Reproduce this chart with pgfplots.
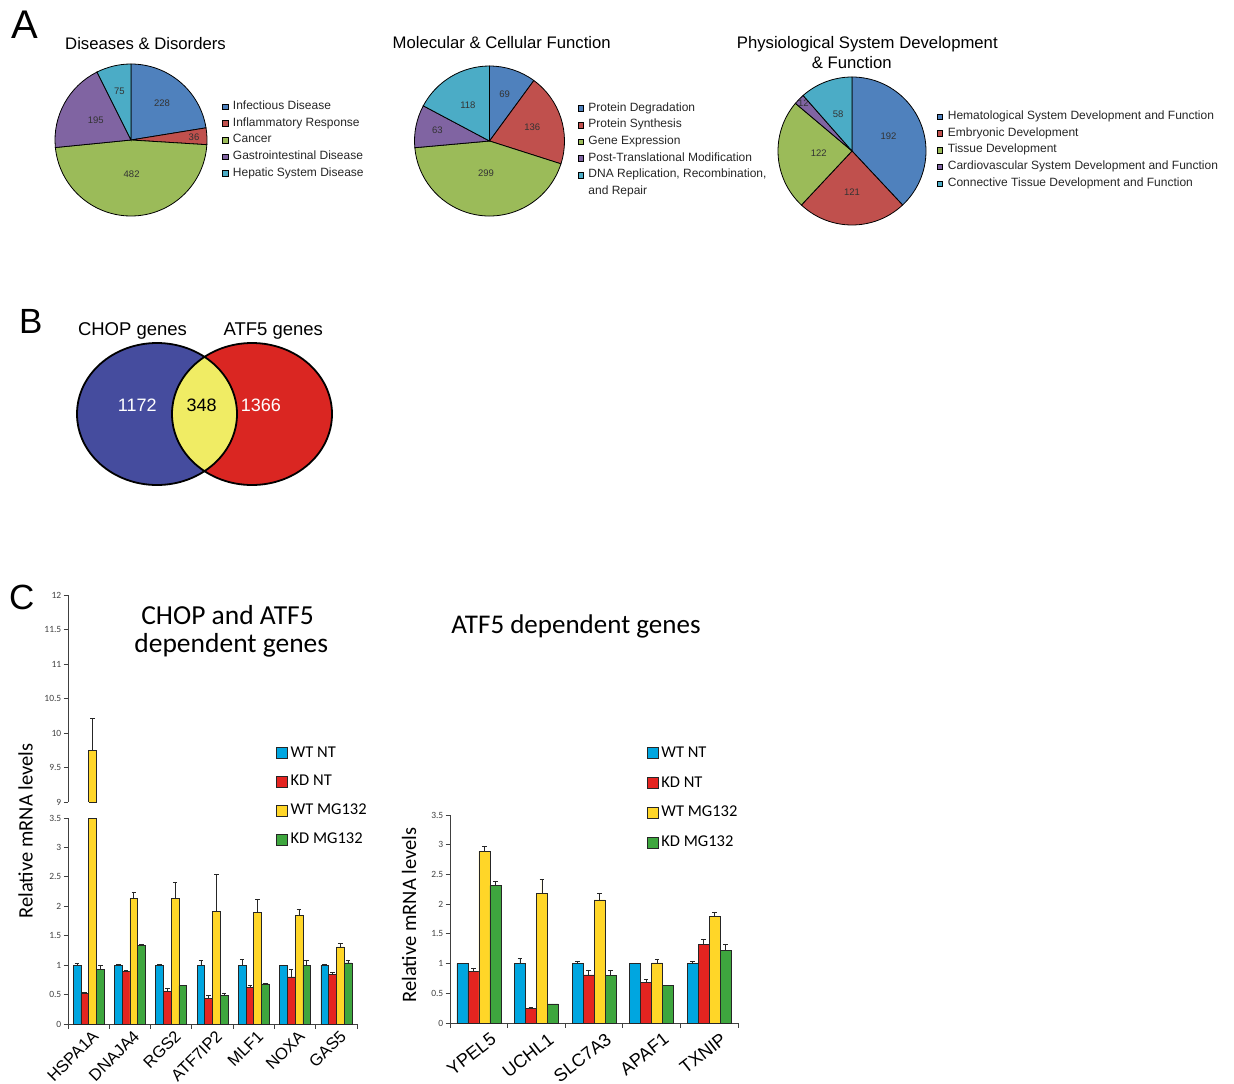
\documentclass[border=0pt]{standalone}
\usepackage{pgfplots}
\pgfplotsset{compat=1.18}
\usepackage{fontspec}
\setmainfont{Liberation Sans}
\newfontfamily\calibri{Carlito}

\definecolor{pblue}{RGB}{79,129,189}
\definecolor{pred}{RGB}{192,80,77}
\definecolor{pgreen}{RGB}{155,187,89}
\definecolor{ppurple}{RGB}{128,100,162}
\definecolor{pteal}{RGB}{75,172,198}
\definecolor{vblue}{RGB}{69,76,158}
\definecolor{vred}{RGB}{218,38,34}
\definecolor{vyellow}{RGB}{240,236,100}
\definecolor{bblue}{RGB}{0,166,224}
\definecolor{bred}{RGB}{228,36,32}
\definecolor{byellow}{RGB}{255,214,40}
\definecolor{bgreen}{RGB}{62,166,62}

\newcommand\fs[1]{\fontsize{#1}{#1}\selectfont}
\newcommand\pielabelfont{\fs{9.5}\color{black!80}}

% builds the slices of a pie (value/colour/label-radius-factor), clockwise from 12 o'clock
\newcommand\makepie[3]{%
  \gdef\pietotal{0}%
  \foreach \v/\c/\f in {#3}{\pgfmathparse{\pietotal+\v}\xdef\pietotal{\pgfmathresult}}%
  \gdef\pieacc{0}%
  \gdef#1{}%
  \foreach \v/\c/\f in {#3}{%
    \pgfmathsetmacro\piea{90-\pieacc/\pietotal*360}%
    \pgfmathparse{\pieacc+\v}\xdef\pieacc{\pgfmathresult}%
    \pgfmathsetmacro\pieb{90-\pieacc/\pietotal*360}%
    \pgfmathsetmacro\piemid{(\piea+\pieb)/2}%
    \pgfmathsetmacro\pierad{\f*#2}%
    \xdef#1{\unexpanded\expandafter{#1}%
      \noexpand\fill[\c,draw=black,line width=0.8pt] (axis cs:0,0) -- ++(\piea:#2pt) arc[start angle=\piea,end angle=\pieb,radius=#2pt] -- cycle;%
      \noexpand\node[font=\noexpand\pielabelfont] at ([shift={(\piemid:\pierad pt)}]axis cs:0,0) {\v};}%
  }%
}
\makepie\pieA{76}{228/pblue/0.63,36/pred/0.83,482/pgreen/0.45,195/ppurple/0.53,75/pteal/0.66}
\makepie\pieB{75}{69/pblue/0.65,136/pred/0.6,299/pgreen/0.43,63/ppurple/0.71,118/pteal/0.56}
\makepie\pieC{74}{192/pblue/0.53,121/pred/0.55,122/pgreen/0.45,12/ppurple/0.92,58/pteal/0.53}

\pgfplotsset{
  pieaxis/.style={hide axis, scale only axis, clip=false, anchor=center,
    xmin=-1,xmax=1,ymin=-1,ymax=1,
    legend cell align=left,
    legend image code/.code={\fill[##1] (0pt,-2.75pt) rectangle (5.5pt,2.75pt); \path (10.5pt,0pt);},
    legend style={draw=none, fill=none, anchor=north west, inner sep=0pt, outer sep=0pt,
      row sep=4.7pt, font=\fs{12}, text=black!85,
      nodes={inner sep=0pt, text height=8.8pt, text depth=3.2pt}}},
  barax/.style={scale only axis, anchor=south west, clip=false, ybar=0pt,
    axis lines*=left, axis line style={black!75, line width=0.8pt},
    tick align=outside, major tick length=4.5pt, tick style={black!75, line width=0.8pt},
    yticklabel style={font=\calibri\fs{9.5}, text=black!75, inner sep=2pt},
    /pgf/number format/assume math mode=true,
    every axis plot/.append style={draw=black!85, line width=0.6pt},
    legend cell align=left,
    legend image code/.code={\draw[##1, draw=black!85, line width=0.7pt] (0pt,-5.5pt) rectangle (11pt,5.5pt); \path (13pt,0pt);},
    legend style={draw=none, fill=none, anchor=north west, inner sep=0pt, outer sep=0pt,
      font=\calibri\fs{16.5}, nodes={inner ysep=0pt, inner xsep=1pt, text height=12pt, text depth=4pt}},
    xticklabels={},
  },
  errbar/.style={error bars/y dir=plus, error bars/y explicit,
    error bars/error bar style={draw=black!85, line width=0.7pt},
    error bars/error mark options={rotate=90, draw=black!85, line width=0.7pt, mark size=2.3pt}},
}

\begin{document}
\begin{tikzpicture}
\useasboundingbox (0pt,0pt) rectangle (1234pt,-1084pt);

% ---------------- A: pies
\begin{axis}[pieaxis, at={(131pt,-140pt)}, width=152pt, height=152pt,
  legend style={at={(1.099,0.759)}}]
\pieA
\addlegendimage{fill=pblue}\addlegendentry{Infectious Disease}
\addlegendimage{fill=pred}\addlegendentry{Inflammatory Response}
\addlegendimage{fill=pgreen}\addlegendentry{Cancer}
\addlegendimage{fill=ppurple}\addlegendentry{Gastrointestinal Disease}
\addlegendimage{fill=pteal}\addlegendentry{Hepatic System Disease}
\end{axis}

\begin{axis}[pieaxis, at={(489.5pt,-141pt)}, width=150pt, height=150pt,
  legend style={at={(1.087,0.758)}}]
\pieB
\addlegendimage{fill=pblue}\addlegendentry{Protein Degradation}
\addlegendimage{fill=pred}\addlegendentry{Protein Synthesis}
\addlegendimage{fill=pgreen}\addlegendentry{Gene Expression}
\addlegendimage{fill=ppurple}\addlegendentry{Post-Translational Modification}
\addlegendimage{fill=pteal}\addlegendentry{DNA Replication, Recombination,}
\addlegendimage{empty legend}\addlegendentry{and Repair}
\end{axis}

\begin{axis}[pieaxis, at={(852pt,-151pt)}, width=148pt, height=148pt,
  legend style={at={(1.074,0.772)}}]
\pieC
\addlegendimage{fill=pblue}\addlegendentry{Hematological System Development and Function}
\addlegendimage{fill=pred}\addlegendentry{Embryonic Development}
\addlegendimage{fill=pgreen}\addlegendentry{Tissue Development}
\addlegendimage{fill=ppurple}\addlegendentry{Cardiovascular System Development and Function}
\addlegendimage{fill=pteal}\addlegendentry{Connective Tissue Development and Function}
\end{axis}

\node[anchor=base, font=\fs{16.7}] at (145.5pt,-49.5pt) {Diseases \& Disorders};
\node[anchor=base, font=\fs{16.7}] at (501.7pt,-48.5pt) {Molecular \& Cellular Function};
\node[anchor=base, font=\fs{16.7}] at (867.3pt,-48.3pt) {Physiological System Development};
\node[anchor=base, font=\fs{16.7}] at (851.7pt,-68.3pt) {\& Function};

% ---------------- B: Venn
\begin{axis}[hide axis, scale only axis, clip=false, anchor=south west,
  at={(60pt,-500pt)}, width=280pt, height=180pt,
  xmin=60, xmax=340, ymin=-500, ymax=-320]
\fill[vblue] (axis cs:157,-414) ellipse [x radius=80pt, y radius=71pt];
\fill[vred] (axis cs:252,-414) ellipse [x radius=80pt, y radius=71pt];
\fill[vyellow] (axis cs:204.5,-356.9) arc[start angle=126.4, end angle=233.6, x radius=80pt, y radius=71pt]
   arc[start angle=-53.6, end angle=53.6, x radius=80pt, y radius=71pt] -- cycle;
\draw[black, line width=1.8pt] (axis cs:157,-414) ellipse [x radius=80pt, y radius=71pt];
\draw[black, line width=1.8pt] (axis cs:252,-414) ellipse [x radius=80pt, y radius=71pt];
\node[anchor=base, font=\fs{18}, text=white] at (axis cs:137.2,-411.5) {1172};
\node[anchor=base, font=\fs{18}, text=black] at (axis cs:201.7,-411.5) {348};
\node[anchor=base, font=\fs{18}, text=white] at (axis cs:260.8,-411.5) {1366};
\end{axis}
\node[anchor=base, font=\fs{18.5}] at (132.5pt,-335pt) {CHOP genes};
\node[anchor=base, font=\fs{18.5}] at (273.3pt,-335pt) {ATF5 genes};

% ---------------- C: left bar chart, upper part (axis break)
\begin{axis}[scale only axis, anchor=south west, clip=false,
  at={(68pt,-802pt)}, width=289pt, height=207pt,
  xmin=-0.5, xmax=6.5, ymin=9, ymax=12, ytick={9,9.5,...,12},
  axis x line=none, axis y line*=left, axis line style={black!75, line width=0.8pt},
  tick align=outside, major tick length=4.5pt, tick style={black!75, line width=0.8pt},
  yticklabel style={font=\calibri\fs{9.5}, text=black!75, inner sep=2pt},
  /pgf/number format/assume math mode=true]
\addplot[fill=byellow, draw=black!85, line width=0.6pt] coordinates {(0,9) (0,9.75) (0.1877,9.75) (0.1877,9) (0,9)};
\addplot[draw=none, mark=none, errbar] coordinates {(0.0939,9.75) +- (0,0.46)};
\end{axis}

% lower part
\begin{axis}[barax, at={(68pt,-1024pt)}, width=289pt, height=206pt,
  xmin=-0.5, xmax=6.5, ymin=0, ymax=3.5, ytick={0,0.5,...,3.5},
  bar width=7.75pt, xtick={-0.5,0.5,...,6.5},
  extra x ticks={0,1,2,3,4,5,6},
  extra x tick labels={HSPA1A,DNAJA4,RGS2,ATF7IP2,MLF1,NOXA,GAS5},
  extra x tick style={major tick length=0pt, tick label style={xshift=2.5pt, yshift=-4.5pt, rotate=45, anchor=north east, font=\fs{16.5}, inner sep=0.5pt}},
  legend style={at={(0.7197,1.353)}, row sep=12.7pt}]
\addplot[fill=bblue, errbar] coordinates {(0,1.00)+-(0,0.03) (1,1.00)+-(0,0.02) (2,1.00)+-(0,0.01) (3,1.00)+-(0,0.085) (4,1.00)+-(0,0.10) (5,1.00)+-(0,0.005) (6,1.00)+-(0,0.02)};
\addlegendentry{WT NT}
\addplot[fill=bred, errbar] coordinates {(0,0.52)+-(0,0.01) (1,0.90)+-(0,0.01) (2,0.56)+-(0,0.05) (3,0.44)+-(0,0.05) (4,0.62)+-(0,0.04) (5,0.80)+-(0,0.13) (6,0.84)+-(0,0.03)};
\addlegendentry{KD NT}
\addplot[fill=byellow, errbar] coordinates {(0,3.5)+-(0,0) (1,2.13)+-(0,0.10) (2,2.13)+-(0,0.28) (3,1.92)+-(0,0.63) (4,1.90)+-(0,0.22) (5,1.84)+-(0,0.11) (6,1.31)+-(0,0.06)};
\addlegendentry{WT MG132}
\addplot[fill=bgreen, errbar] coordinates {(0,0.93)+-(0,0.07) (1,1.33)+-(0,0.02) (2,0.65)+-(0,0.01) (3,0.49)+-(0,0.03) (4,0.68)+-(0,0.01) (5,1.00)+-(0,0.09) (6,1.04)+-(0,0.04)};
\addlegendentry{KD MG132}
\end{axis}

% right bar chart
\begin{axis}[barax, at={(450pt,-1023pt)}, width=288pt, height=208pt,
  xmin=-0.5, xmax=4.5, ymin=0, ymax=3.5, ytick={0,0.5,...,3.5},
  bar width=11pt, xtick={-0.5,0.5,...,4.5},
  extra x ticks={0,1,2,3,4},
  extra x tick labels={YPEL5,UCHL1,SLC7A3,APAF1,TXNIP},
  extra x tick style={major tick length=0pt, tick label style={xshift=11pt, yshift=-8pt, rotate=38, anchor=north east, font=\fs{18}, inner sep=0.5pt}},
  legend style={at={(0.683,1.335)}, row sep=13.8pt}]
\addplot[fill=bblue, errbar] coordinates {(0,1.00)+-(0,0.005) (1,1.00)+-(0,0.08) (2,1.00)+-(0,0.04) (3,1.00)+-(0,0.01) (4,1.00)+-(0,0.03)};
\addlegendentry{WT NT}
\addplot[fill=bred, errbar] coordinates {(0,0.87)+-(0,0.05) (1,0.25)+-(0,0.01) (2,0.81)+-(0,0.07) (3,0.69)+-(0,0.05) (4,1.32)+-(0,0.09)};
\addlegendentry{KD NT}
\addplot[fill=byellow, errbar] coordinates {(0,2.89)+-(0,0.09) (1,2.18)+-(0,0.24) (2,2.07)+-(0,0.11) (3,1.01)+-(0,0.06) (4,1.79)+-(0,0.07)};
\addlegendentry{WT MG132}
\addplot[fill=bgreen, errbar] coordinates {(0,2.31)+-(0,0.08) (1,0.32)+-(0,0) (2,0.80)+-(0,0.08) (3,0.63)+-(0,0.01) (4,1.22)+-(0,0.10)};
\addlegendentry{KD MG132}
\end{axis}

\node[anchor=base, font=\calibri\fs{27.5}] at (227.5pt,-624pt) {CHOP and ATF5};
\node[anchor=base, font=\calibri\fs{27.5}] at (231.3pt,-652pt) {dependent genes};
\node[anchor=base, font=\calibri\fs{27}] at (576pt,-633pt) {ATF5 dependent genes};
\node[rotate=90, font=\calibri\fs{20.5}] at (25.5pt,-831pt) {Relative mRNA levels};
\node[rotate=90, font=\calibri\fs{20.5}] at (409pt,-915pt) {Relative mRNA levels};

% panel letters
\node[anchor=base west, font=\fs{40}, inner sep=0pt] at (11pt,-38pt) {A};
\node[anchor=base west, font=\fs{35}, inner sep=0pt] at (19pt,-333pt) {B};
\node[anchor=base west, font=\fs{35}, inner sep=0pt] at (9pt,-609pt) {C};
\end{tikzpicture}
\end{document}
